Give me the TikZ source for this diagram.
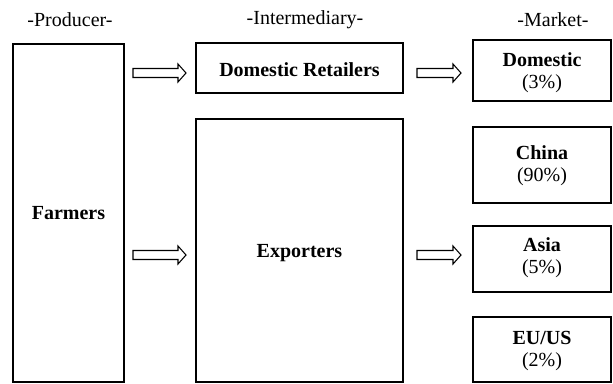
\documentclass[tikz,border=0pt]{standalone}
\usepackage{fontspec}
\setmainfont{Liberation Serif}
\usetikzlibrary{calc}
\begin{document}
\begin{tikzpicture}[x=0.75pt,y=-0.75pt,
  box/.style={draw,line width=0.8pt,inner sep=0pt},
  lbl/.style={align=center,font=\fontsize{15}{16.5}\selectfont},
  head/.style={font=\fontsize{15}{16.5}\selectfont},
  barrow/.style={draw,line width=0.8pt,line join=miter}]
\useasboundingbox (0,0) rectangle (613,383);
% headers
\node[head] (hp) at (70,20) {-Producer-};
\node[head] (hi) at (305,20) {-Intermediary-};
\node[head] (hm) at (553,20) {-Market-};
% boxes
\draw[box] (13,44) rectangle (124,382);
\node[lbl] (farm) at (68.5,213) {\textbf{Farmers}};
\draw[box] (196,43) rectangle (403,93);
\node[lbl] (dr) at (299.5,70) {\textbf{Domestic Retailers}};
\draw[box] (196,119) rectangle (403,382);
\node[lbl] (exp) at (299.5,253) {\textbf{Exporters}};
\draw[box] (473,40) rectangle (611,101);
\node[lbl] (dom) at (542,72.5) {\textbf{Domestic}\\(3\%)};
\draw[box] (473,127) rectangle (611,203);
\node[lbl] (chn) at (542,166) {\textbf{China}\\(90\%)};
\draw[box] (473,226) rectangle (611,292);
\node[lbl] (asia) at (542,258) {\textbf{Asia}\\(5\%)};
\draw[box] (473,317) rectangle (611,382);
\node[lbl] (eu) at (542,351) {\textbf{EU/US}\\(2\%)};
% hollow block arrows
\newcommand{\hollowarrow}[2]{%
  \path #1 coordinate (s) #2 coordinate (e);
  \draw[barrow] ($(s)+(0,-4.5)$) -- ($(e)+(-8,-4.5)$) -- ($(e)+(-8,-9)$) -- (e)
     -- ($(e)+(-8,9)$) -- ($(e)+(-8,4.5)$) -- ($(s)+(0,4.5)$) -- cycle;}
\coordinate (a1s) at (133,73);  \coordinate (a1e) at (186,73);
\coordinate (a2s) at (417,73);  \coordinate (a2e) at (461,73);
\coordinate (a3s) at (133,255); \coordinate (a3e) at (186,255);
\coordinate (a4s) at (417,255); \coordinate (a4e) at (461,255);
\hollowarrow{(a1s)}{(a1e)}
\hollowarrow{(a2s)}{(a2e)}
\hollowarrow{(a3s)}{(a3e)}
\hollowarrow{(a4s)}{(a4e)}
\end{tikzpicture}
\end{document}
